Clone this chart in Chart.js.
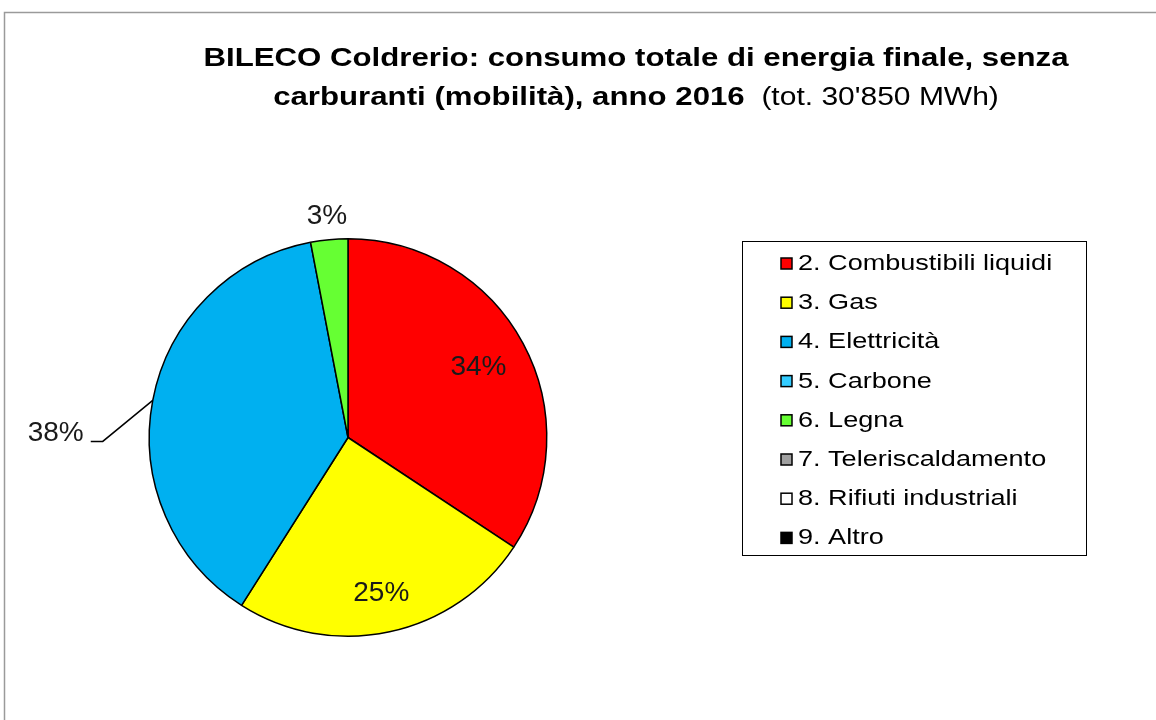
<!DOCTYPE html>
<html><head><meta charset="utf-8">
<script src="https://cdn.jsdelivr.net/npm/chart.js@4.4.1/dist/chart.umd.min.js"></script>
<style>html,body{margin:0;padding:0;background:#fff;}#wrap{width:1156px;height:720px;position:relative;}</style>
</head><body><div id="wrap"><canvas id="c" width="1156" height="720"></canvas></div>
<script>
const categories = ["2. Combustibili liquidi","3. Gas","4. Elettricità","5. Carbone","6. Legna","7. Teleriscaldamento","8. Rifiuti industriali","9. Altro"];
const valuesMWh = [10580, 7620, 11720, 0, 930, 0, 0, 0];
const colors = ["#FF0000","#FFFF00","#00B0F0","#33CCFF","#66FF33","#A0A0A0","#FFFFFF","#000000"];
const titleLine1 = "BILECO Coldrerio: consumo totale di energia finale, senza";
const titleLine2Bold = "carburanti (mobilità), anno 2016";
const titleLine2Normal = "  (tot. 30'850 MWh)";

const FONT = '"Liberation Sans", Arial, sans-serif';
const labelStyle = {0:{f:0.745},1:{f:0.80},2:{leader:true},4:{f:1.12}};

function stretchText(ctx, txt, x, y, sx){
  ctx.save(); ctx.translate(x,y); ctx.scale(sx,1); ctx.fillText(txt,0,0); ctx.restore();
}

const decor = {
  id:'decor',
  beforeDraw(chart){
    const ctx = chart.ctx;
    ctx.save();
    ctx.fillStyle='#fff'; ctx.fillRect(0,0,chart.width,chart.height);
    ctx.strokeStyle='#9a9a9a'; ctx.lineWidth=1.5;
    ctx.beginPath(); ctx.moveTo(4.5,720); ctx.lineTo(4.5,12.5); ctx.lineTo(1156,12.5); ctx.stroke();
    ctx.restore();
  },
  afterDraw(chart){
    const ctx = chart.ctx;
    ctx.save();
    // title
    const TS = 1.2;
    ctx.fillStyle='#000'; ctx.textBaseline='alphabetic'; ctx.textAlign='left';
    ctx.font='bold 26px '+FONT;
    const w1 = ctx.measureText(titleLine1).width*TS;
    stretchText(ctx, titleLine1, 636-w1/2, 66, TS);
    const bw = ctx.measureText(titleLine2Bold).width*TS;
    ctx.font='25px '+FONT;
    const nw = ctx.measureText(titleLine2Normal).width*TS;
    let x0 = 636-(bw+nw)/2;
    ctx.font='bold 26px '+FONT; stretchText(ctx, titleLine2Bold, x0, 105, TS);
    ctx.font='25px '+FONT; stretchText(ctx, titleLine2Normal, x0+bw, 105, TS);

    // percentage labels
    const meta = chart.getDatasetMeta(0);
    const total = valuesMWh.reduce((a,b)=>a+b,0);
    ctx.font='28px '+FONT; ctx.fillStyle='#1a1a1a'; ctx.textBaseline='middle';
    meta.data.forEach((arc,i)=>{
      if(!valuesMWh[i]) return;
      const st = labelStyle[i]; if(!st) return;
      const p = arc.getProps(['x','y','startAngle','endAngle','outerRadius']);
      const mid=(p.startAngle+p.endAngle)/2;
      const txt = Math.round(valuesMWh[i]/total*100)+'%';
      if(st.leader){
        const ex=p.x+Math.cos(mid)*p.outerRadius, ey=p.y+Math.sin(mid)*p.outerRadius;
        ctx.strokeStyle='#000'; ctx.lineWidth=1.5;
        ctx.beginPath(); ctx.moveTo(ex,ey); ctx.lineTo(ex-50,ey+41); ctx.lineTo(ex-62,ey+41); ctx.stroke();
        ctx.textAlign='right'; ctx.fillText(txt, ex-69, ey+33);
      } else {
        ctx.textAlign='center';
        ctx.fillText(txt, p.x+Math.cos(mid)*p.outerRadius*st.f, p.y+Math.sin(mid)*p.outerRadius*st.f);
      }
    });

    // legend
    ctx.strokeStyle='#000'; ctx.lineWidth=1;
    ctx.strokeRect(742.5,241.5,344,314);
    ctx.font='22px '+FONT; ctx.textAlign='left'; ctx.textBaseline='middle';
    categories.forEach((c,i)=>{
      const y=263+i*39.2;
      ctx.fillStyle=colors[i];
      ctx.fillRect(781,y-5,11,11);
      ctx.strokeStyle='#000'; ctx.lineWidth=1.5; ctx.strokeRect(781,y-5,11,11);
      ctx.fillStyle='#000'; stretchText(ctx, c, 798, y+1, 1.23);
    });
    ctx.restore();
  }
};

new Chart(document.getElementById('c'), {
  type:'pie',
  data:{labels:categories, datasets:[{data:valuesMWh, backgroundColor:colors, borderColor:'#000', borderWidth:1.5}]},
  options:{
    responsive:false, animation:false,
    layout:{padding:{left:148,right:608,top:238,bottom:83}},
    plugins:{legend:{display:false},tooltip:{enabled:false},title:{display:false}}
  },
  plugins:[decor]
});
</script></body></html>
